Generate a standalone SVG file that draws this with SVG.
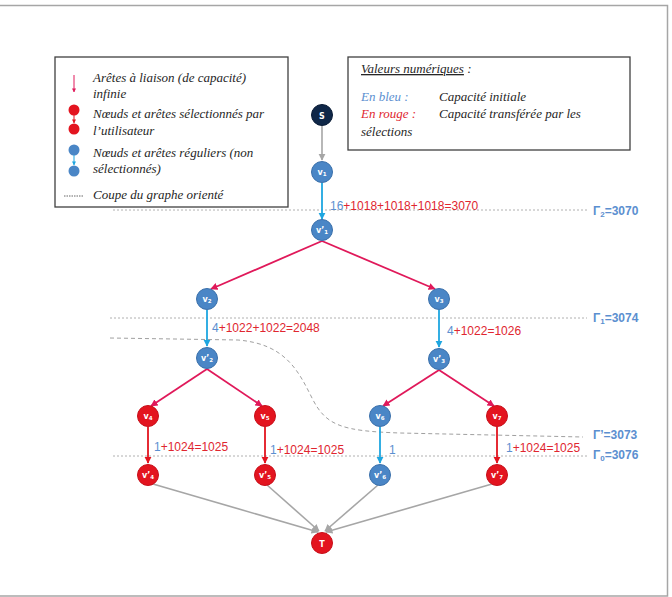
<svg xmlns="http://www.w3.org/2000/svg" width="672" height="597" viewBox="0 0 672 597">
<style>
.frame{fill:none;stroke:#a6a6a6;stroke-width:1.5}
.box{fill:#fff;stroke:#404040;stroke-width:1.3}
.lt{font-family:"Liberation Serif","Times New Roman",Times,serif;font-style:italic;font-size:13px;fill:#262626}
.nb{fill:#4a86c6;stroke:#3a70ab;stroke-width:1}
.nr{fill:#e3141f;stroke:#c70f19;stroke-width:1}
.nd{fill:#0f2748;stroke:#0a1c36;stroke-width:1}
.nl{font-family:"DejaVu Sans","Liberation Sans",sans-serif;font-weight:bold;font-size:8px;fill:#fff;text-anchor:middle}
.sub{font-size:5.5px}
.ep{stroke:#e0195a;stroke-width:1.8;fill:none;marker-end:url(#ap)}
.ec{stroke:#1ea6e0;stroke-width:1.8;fill:none;marker-end:url(#ac)}
.er{stroke:#e3141f;stroke-width:1.8;fill:none;marker-end:url(#ar)}
.eg{stroke:#a6a6a6;stroke-width:1.6;fill:none;marker-end:url(#ag)}
.cut{stroke:#b0b0b0;stroke-width:1;stroke-dasharray:2,2;fill:none}
.cutc{stroke:#a0a0a0;stroke-width:1;stroke-dasharray:4,3;fill:none}
.el{font-family:"Liberation Sans",Arial,sans-serif;font-size:12px}
.bl{fill:#5b8fd0}
.rd{fill:#e0262f}
.gl{font-family:"Liberation Sans",Arial,sans-serif;font-size:12px;font-weight:bold;fill:#5b8fd0}
</style>
<defs>
<marker id="ap" viewBox="0 0 10 10" refX="9" refY="5" markerWidth="4" markerHeight="4" orient="auto" markerUnits="strokeWidth"><path d="M0,0 L10,5 L0,10 z" fill="#e0195a"/></marker>
<marker id="ac" viewBox="0 0 10 10" refX="9" refY="5" markerWidth="4" markerHeight="4" orient="auto" markerUnits="strokeWidth"><path d="M0,0 L10,5 L0,10 z" fill="#1ea6e0"/></marker>
<marker id="ar" viewBox="0 0 10 10" refX="9" refY="5" markerWidth="4" markerHeight="4" orient="auto" markerUnits="strokeWidth"><path d="M0,0 L10,5 L0,10 z" fill="#e3141f"/></marker>
<marker id="ag" viewBox="0 0 10 10" refX="9" refY="5" markerWidth="4.5" markerHeight="4.5" orient="auto" markerUnits="strokeWidth"><path d="M0,0 L10,5 L0,10 z" fill="#a6a6a6"/></marker>
</defs>
<rect x="0" y="0" width="672" height="597" fill="#fff"/>
<path class="frame" d="M-2,5.5 H667.5 V596 H-2"/>

<!-- cut lines -->
<g id="cuts">
<line class="cut" x1="113" y1="210" x2="587" y2="210"/>
<line class="cut" x1="110" y1="318" x2="587" y2="318"/>
<line class="cut" x1="113" y1="456" x2="587" y2="456"/>
<path class="cutc" d="M110,338 L238,340 C285,344 298,370 312,398 C326,426 342,431 400,433 L583,437"/>
<text class="gl" x="593" y="215">Γ<tspan font-size="8" dy="2">2</tspan><tspan dy="-2">=3070</tspan></text>
<text class="gl" x="593" y="322">Γ<tspan font-size="8" dy="2">1</tspan><tspan dy="-2">=3074</tspan></text>
<text class="gl" x="593" y="439">Γ’=3073</text>
<text class="gl" x="593" y="459">Γ<tspan font-size="8" dy="2">0</tspan><tspan dy="-2">=3076</tspan></text>
</g>

<!-- legend 1 -->
<g id="legend1">
<rect class="box" x="55" y="57" width="233" height="150"/>
<line x1="74" y1="75" x2="74" y2="92" stroke="#e0195a" stroke-width="1" marker-end="url(#ap)"/>
<text class="lt" x="93" y="82">Arêtes à liaison (de capacité)</text>
<text class="lt" x="93" y="98">infinie</text>
<circle cx="74" cy="110" r="5.5" fill="#e3141f"/>
<line x1="74" y1="115" x2="74" y2="123" stroke="#e3141f" stroke-width="1" marker-end="url(#ar)"/>
<circle cx="74" cy="129" r="5.5" fill="#e3141f"/>
<text class="lt" x="93" y="118">Nœuds et arêtes sélectionnés par</text>
<text class="lt" x="93" y="135">l’utilisateur</text>
<circle cx="74" cy="150" r="5.5" fill="#4a86c6"/>
<line x1="74" y1="155" x2="74" y2="165" stroke="#1ea6e0" stroke-width="1" marker-end="url(#ac)"/>
<circle cx="74" cy="171" r="5.5" fill="#4a86c6"/>
<text class="lt" x="93" y="157">Nœuds et arêtes réguliers (non</text>
<text class="lt" x="93" y="173">sélectionnés)</text>
<line x1="64" y1="196" x2="83" y2="196" stroke="#404040" stroke-width="0.8" stroke-dasharray="1.5,1"/>
<text class="lt" x="93" y="199">Coupe du graphe orienté</text>
</g>

<!-- legend 2 -->
<g id="legend2">
<rect class="box" x="348" y="57" width="282" height="93"/>
<text class="lt" x="361" y="73"><tspan text-decoration="underline">Valeurs numériques</tspan> :</text>
<text class="lt" x="361" y="101" style="fill:#5b8fd0">En bleu :</text>
<text class="lt" x="439" y="101">Capacité initiale</text>
<text class="lt" x="361" y="118" style="fill:#e0262f">En rouge :</text>
<text class="lt" x="439" y="118">Capacité transférée par les</text>
<text class="lt" x="361" y="136">sélections</text>
</g>

<!-- connectors -->
<g id="connectors">
<line class="eg" x1="322" y1="126" x2="322" y2="160"/>
<line class="ec" x1="322" y1="183" x2="322" y2="219"/>
<line class="ep" x1="322" y1="241" x2="211" y2="289"/>
<line class="ep" x1="322" y1="241" x2="435" y2="289"/>
<line class="ec" x1="207" y1="310" x2="207" y2="346"/>
<line class="ec" x1="439" y1="310" x2="439" y2="347"/>
<line class="ep" x1="207" y1="369" x2="151" y2="406"/>
<line class="ep" x1="207" y1="369" x2="262" y2="406"/>
<line class="ep" x1="439" y1="370" x2="383" y2="406"/>
<line class="ep" x1="439" y1="370" x2="494" y2="406"/>
<line class="er" x1="148" y1="427" x2="148" y2="463"/>
<line class="er" x1="265" y1="427" x2="265" y2="463"/>
<line class="ec" x1="380" y1="427" x2="380" y2="463"/>
<line class="er" x1="497" y1="427" x2="497" y2="463"/>
<line class="eg" x1="153" y1="484" x2="318" y2="532"/>
<line class="eg" x1="267" y1="485" x2="319" y2="531"/>
<line class="eg" x1="378" y1="485" x2="325" y2="531"/>
<line class="eg" x1="492" y1="484" x2="326" y2="532"/>
</g>

<!-- edge labels -->
<g id="edge-labels">
<text class="el" x="330" y="210"><tspan class="bl">16</tspan><tspan class="rd">+1018+1018+1018=3070</tspan></text>
<text class="el" x="212" y="332"><tspan class="bl">4</tspan><tspan class="rd">+1022+1022=2048</tspan></text>
<text class="el" x="447" y="335"><tspan class="bl">4</tspan><tspan class="rd">+1022=1026</tspan></text>
<text class="el" x="154" y="451"><tspan class="bl">1</tspan><tspan class="rd">+1024=1025</tspan></text>
<text class="el" x="270" y="454"><tspan class="bl">1</tspan><tspan class="rd">+1024=1025</tspan></text>
<text class="el bl" x="389" y="454">1</text>
<text class="el" x="506" y="452"><tspan class="bl">1</tspan><tspan class="rd">+1024=1025</tspan></text>
</g>

<!-- nodes -->
<g id="S"><circle class="nd" cx="322" cy="115" r="10.5"/><text class="nl" x="322" y="118.5" font-size="9">S</text></g>
<g id="v1"><circle class="nb" cx="322" cy="172" r="10.5"/><text class="nl" x="322" y="175">v<tspan class="sub" dy="1">1</tspan></text></g>
<g id="v1p"><circle class="nb" cx="322" cy="230" r="10.5"/><text class="nl" x="322" y="233">v’<tspan class="sub" dy="1">1</tspan></text></g>
<g id="v2"><circle class="nb" cx="207" cy="299" r="10.5"/><text class="nl" x="207" y="302">v<tspan class="sub" dy="1">2</tspan></text></g>
<g id="v3"><circle class="nb" cx="439" cy="299" r="10.5"/><text class="nl" x="439" y="302">v<tspan class="sub" dy="1">3</tspan></text></g>
<g id="v2p"><circle class="nb" cx="207" cy="358" r="10.5"/><text class="nl" x="207" y="361">v’<tspan class="sub" dy="1">2</tspan></text></g>
<g id="v3p"><circle class="nb" cx="439" cy="359" r="10.5"/><text class="nl" x="439" y="362">v’<tspan class="sub" dy="1">3</tspan></text></g>
<g id="v4"><circle class="nr" cx="148" cy="416" r="10.5"/><text class="nl" x="148" y="419">v<tspan class="sub" dy="1">4</tspan></text></g>
<g id="v5"><circle class="nr" cx="265" cy="416" r="10.5"/><text class="nl" x="265" y="419">v<tspan class="sub" dy="1">5</tspan></text></g>
<g id="v6"><circle class="nb" cx="380" cy="416" r="10.5"/><text class="nl" x="380" y="419">v<tspan class="sub" dy="1">6</tspan></text></g>
<g id="v7"><circle class="nr" cx="497" cy="416" r="10.5"/><text class="nl" x="497" y="419">v<tspan class="sub" dy="1">7</tspan></text></g>
<g id="v4p"><circle class="nr" cx="148" cy="475" r="10.5"/><text class="nl" x="148" y="478">v’<tspan class="sub" dy="1">4</tspan></text></g>
<g id="v5p"><circle class="nr" cx="265" cy="475" r="10.5"/><text class="nl" x="265" y="478">v’<tspan class="sub" dy="1">5</tspan></text></g>
<g id="v6p"><circle class="nb" cx="380" cy="475" r="10.5"/><text class="nl" x="380" y="478">v’<tspan class="sub" dy="1">6</tspan></text></g>
<g id="v7p"><circle class="nr" cx="497" cy="475" r="10.5"/><text class="nl" x="497" y="478">v’<tspan class="sub" dy="1">7</tspan></text></g>
<g id="T"><circle class="nr" cx="322" cy="543" r="10.5"/><text class="nl" x="322" y="546.5" font-size="9">T</text></g>
</svg>
